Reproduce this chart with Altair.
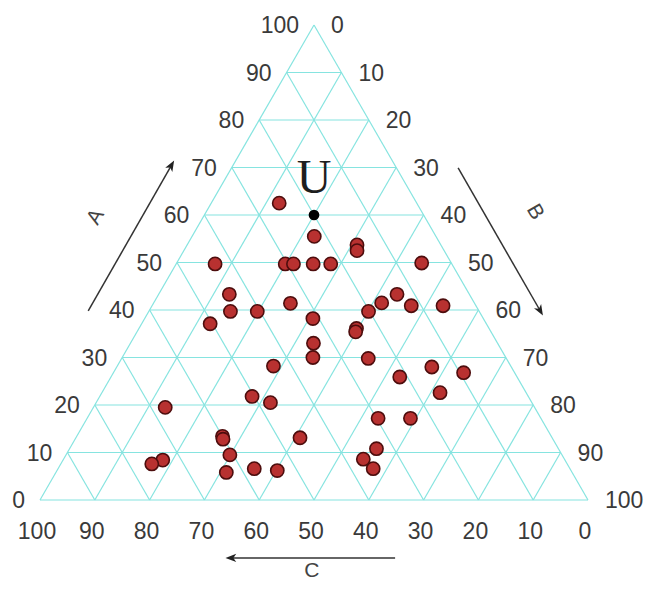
import altair as alt
import pandas as pd

# Ternary compositions (A, B in %, C = 100 - A - B)
A_vals = [62.5, 55.5, 53.7, 52.5, 49.7, 49.7, 49.7, 49.7, 49.7, 49.9,
          43.3, 39.7, 39.7, 37.1, 41.4, 38.2, 33.0, 30.0, 39.7, 41.5,
          43.3, 40.9, 40.9, 36.1, 35.4, 29.8, 28.2, 28.0, 25.9, 26.8,
          22.6, 21.8, 20.5, 19.5, 17.2, 17.2, 13.4, 12.8, 13.1, 10.8,
          8.6, 6.6, 9.5, 5.8, 6.6, 6.2, 8.4, 7.6]
B_vals = [12.4, 22.3, 31.0, 31.6, 7.1, 19.9, 21.4, 25.0, 28.2, 44.7,
          12.9, 14.9, 19.8, 12.5, 25.0, 30.7, 33.4, 34.8, 40.1, 41.6,
          43.5, 47.3, 53.1, 39.7, 39.9, 45.0, 28.5, 57.5, 52.7, 63.9,
          61.7, 27.8, 31.8, 13.1, 53.1, 59.0, 26.6, 27.0, 40.9, 56.0,
          54.7, 57.5, 29.9, 31.1, 35.8, 40.2, 18.2, 16.6]
U_label = ["U"]
U_A = [60]
U_B = [20]

ticks = [0, 10, 20, 30, 40, 50, 60, 70, 80, 90, 100]
axis_names = ["A", "B", "C"]

FONT = "Liberation Sans Narrow, Arial Narrow, Liberation Sans, sans-serif"
GRID = "#86e4e0"
TXT = "#3a3a3a"

pts = pd.DataFrame({"A": A_vals, "B": B_vals})
pts["C"] = 100 - pts["A"] - pts["B"]
u = pd.DataFrame({"A": U_A, "B": U_B, "name": U_label})
u["C"] = 100 - u["A"] - u["B"]

# grid lines built from tick values (ternary -> cartesian, x = B + A/2, y = A)
rows = []
for k in ticks[:-1]:
    rows.append({"x": k / 2, "y": k, "x2": 100 - k / 2, "y2": k})          # const A
    rows.append({"x": k, "y": 0, "x2": 50 + k / 2, "y2": 100 - k})          # const B
    rows.append({"x": 100 - k, "y": 0, "x2": (100 - k) / 2, "y2": 100 - k})  # const C
grid = pd.DataFrame(rows)

labA = pd.DataFrame({"x": [k / 2 for k in ticks], "y": ticks, "t": [str(k) for k in ticks]})
labB = pd.DataFrame({"x": [50 + k / 2 for k in ticks], "y": [100 - k for k in ticks], "t": [str(k) for k in ticks]})
labC = pd.DataFrame({"x": [100 - k for k in ticks], "y": [0] * len(ticks), "t": [str(k) for k in ticks]})

arrows = pd.DataFrame({
    "x": [8.8, 76.3, 64.8], "y": [39.8, 69.9, -12.2],
    "x2": [23.9, 91.2, 35.0], "y2": [70.3, 40.0, -12.2],
    "ang": [30, 150, 270],
})
names = pd.DataFrame({"x": [10.2, 90.3, 49.6], "y": [59.6, 60.6, -14.9],
                      "t": axis_names, "ang": [300, 60, 0]})

xs = alt.Scale(domain=[0, 100], nice=False, zero=False)
ys = alt.Scale(domain=[0, 100], nice=False, zero=False)
X = alt.X("x:Q", scale=xs, axis=None)
Y = alt.Y("y:Q", scale=ys, axis=None)

grid_l = alt.Chart(grid).mark_rule(color=GRID, strokeWidth=1.2).encode(X, Y, x2="x2:Q", y2="y2:Q")

tA = alt.Chart(labA).mark_text(font=FONT, fontSize=23, color=TXT, align="right", baseline="middle", dx=-15, dy=1).encode(X, Y, text="t:N")
tB = alt.Chart(labB).mark_text(font=FONT, fontSize=23, color=TXT, align="left", baseline="middle", dx=17, dy=1).encode(X, Y, text="t:N")
tC = alt.Chart(labC).mark_text(font=FONT, fontSize=23, color=TXT, align="center", baseline="middle", dx=-3, dy=32).encode(X, Y, text="t:N")

arr_l = alt.Chart(arrows).mark_rule(color="#333333", strokeWidth=1.5).encode(X, Y, x2="x2:Q", y2="y2:Q")
arr_h = alt.Chart(arrows).mark_point(
    shape="M0,-1L0.65,0.7L0,0.25L-0.65,0.7Z", filled=True, color="#222222", size=160, opacity=1
).encode(alt.X("x2:Q", scale=xs, axis=None), alt.Y("y2:Q", scale=ys, axis=None), angle=alt.Angle("ang:Q", scale=None))

name_t = alt.Chart(names).mark_text(font="Liberation Sans, Arial, sans-serif", fontSize=21, color="#444444",
                                    baseline="middle", align="center").encode(X, Y, text="t:N", angle=alt.Angle("ang:Q", scale=None))

pts_l = alt.Chart(pts).transform_calculate(x="datum.B + datum.A/2", y="datum.A").mark_circle(
    size=175, color="#b83130", stroke="#4d0d0d", strokeWidth=1.6, opacity=1
).encode(X, Y, tooltip=["A:Q", "B:Q", "C:Q"])

u_pt = alt.Chart(u).transform_calculate(x="datum.B + datum.A/2", y="datum.A").mark_circle(
    size=115, color="#000000", opacity=1).encode(X, Y)
u_t = alt.Chart(u).transform_calculate(x="datum.B + datum.A/2", y="datum.A").mark_text(
    font="Liberation Serif, Times New Roman, serif", fontSize=48, color="#1e1e1e", baseline="middle", dy=-36
).encode(X, Y, text="name:N")

chart = alt.layer(grid_l, tA, tB, tC, arr_l, arr_h, name_t, pts_l, u_pt, u_t).properties(
    width=548, height=475,
    background="white",
    autosize=alt.AutoSizeParams(type="none"),
    padding={"left": 32, "top": 17, "right": 61, "bottom": 82},
).configure_view(strokeWidth=0, stroke="transparent")

chart.save("out.html", embed_options={"renderer": "svg", "actions": False})
